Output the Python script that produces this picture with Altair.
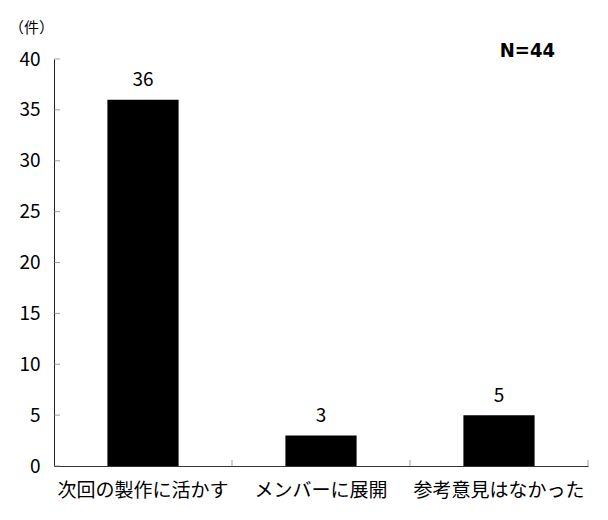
import altair as alt
import pandas as pd

# survey answers and counts
categories = ["次回の製作に活かす", "メンバーに展開", "参考意見はなかった"]
counts = [36, 3, 5]
y_tick_values = [0, 5, 10, 15, 20, 25, 30, 35, 40]
unit_label = "（件）"
sample_note = "N=44"

jp_font = "Noto Sans CJK JP"

df = pd.DataFrame({"category": categories, "count": counts})
ticks_df = pd.DataFrame({"value": y_tick_values})

y_axis = alt.Axis(
    title=unit_label, titleAngle=0, titleX=-23, titleY=-32,
    titleAlign="center", titleBaseline="middle", titleFontSize=15,
    titleFontWeight="normal", titleFont=jp_font, titleColor="black",
    values=y_tick_values, ticks=False, grid=False,
    labelFontSize=19, labelPadding=14, domainColor="#222",
)
y_scale = alt.Scale(domain=[0, 40])
x_scale = alt.Scale(paddingInner=0.6, paddingOuter=0.3)

bars = alt.Chart(df).mark_bar(color="black").encode(
    x=alt.X("category:N", sort=categories, scale=x_scale,
            axis=alt.Axis(title=None, labelAngle=0, ticks=False,
                          domainColor="#333", labelFontSize=19,
                          labelPadding=15, labelOverlap=False, labelLimit=0)),
    y=alt.Y("count:Q", scale=y_scale, axis=y_axis),
)

values = alt.Chart(df).mark_text(baseline="alphabetic", dy=-13.5, fontSize=19,
                                 font=jp_font, color="black").encode(
    x=alt.X("category:N", sort=categories),
    y=alt.Y("count:Q", axis=y_axis),
    text="count:Q",
)

# inward ticks on the y axis
y_ticks = alt.Chart(ticks_df).mark_tick(orient="horizontal", size=6, thickness=1,
                                        color="#777").encode(
    x=alt.value(3),
    y=alt.Y("value:Q", axis=y_axis),
)

# inward ticks between the categories on the x axis (half the gap past each bar)
x_ticks = alt.Chart(df).mark_tick(orient="vertical", size=6, thickness=1,
                                  color="#777", yOffset=-3, xOffset=53.4).encode(
    x=alt.X("category:N", sort=categories, bandPosition=1),
    y=alt.datum(0),
)

chart = (bars + values + y_ticks + x_ticks).properties(
    width=534, height=407,
    autosize=alt.AutoSizeParams(type="none"),
    padding={"left": 46, "top": 51, "right": 12, "bottom": 46},
    title=alt.TitleParams(sample_note, anchor="end", frame="group", dx=-33,
                          offset=-57, baseline="alphabetic",
                          font="DejaVu Sans Condensed",
                          fontSize=20, fontWeight="bold", color="black"),
).configure_view(stroke=None).configure_axis(
    labelFont=jp_font, labelColor="black"
)

chart.save("out.html", embed_options={"renderer": "svg", "actions": False})
